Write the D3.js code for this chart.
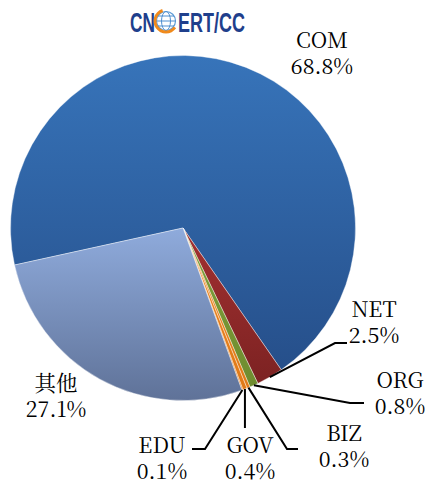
<!DOCTYPE html>
<html>
<head>
<meta charset="utf-8">
<script src="https://cdn.jsdelivr.net/npm/d3@7"></script>
<style>
  body { margin: 0; background: #fff; }
  svg { display: block; }
  .lbl { font-family: "Noto Serif CJK SC", "DejaVu Serif", serif; font-size: 21.5px; }
</style>
</head>
<body>
<div id="chart"></div>
<script>
// domain share by top-level domain
const categories = ["COM", "NET", "ORG", "BIZ", "GOV", "EDU", "其他"];
const values = [68.8, 2.5, 0.8, 0.3, 0.4, 0.1, 27.1];
const valueLabels = ["68.8%", "2.5%", "0.8%", "0.3%", "0.4%", "0.1%", "27.1%"];

const width = 426;
const height = 484;
const cx = 183, cy = 228, radius = 172.5;

const colors = {
  "COM": ["#3774ba", "#264f8a"],
  "NET": ["#a33131", "#7c2222"],
  "ORG": ["#80a03a", "#6f8c30"],
  "BIZ": ["#ee8722", "#e07a18"],
  "GOV": ["#ee8722", "#e07a18"],
  "EDU": ["#ee8722", "#e07a18"],
  "其他": ["#8fabdc", "#5f7298"]
};

// label placement: text centre, leader elbow and end
const labelLayout = {
  "COM": { x: 322, y: 48 },
  "NET": { x: 374, y: 317, elbow: [335, 343], end: [347, 343] },
  "ORG": { x: 400, y: 388, elbow: [350, 403], end: [364, 403] },
  "BIZ": { x: 344, y: 441, elbow: [287, 449], end: [298, 449] },
  "GOV": { x: 250, y: 453, elbow: null, end: [248, 428] },
  "EDU": { x: 162, y: 453, elbow: [205, 449], end: [192, 449] },
  "其他": { x: 56, y: 391 }
};

const data = categories.map((c, i) => ({ name: c, value: values[i], label: valueLabels[i] }));

const svg = d3.select("#chart")
  .append("svg")
  .attr("width", width)
  .attr("height", height);

const defs = svg.append("defs");
data.forEach((d, i) => {
  const g = defs.append("linearGradient")
    .attr("id", "grad" + i)
    .attr("x1", 0).attr("y1", 0)
    .attr("x2", 0).attr("y2", 1);
  g.append("stop").attr("offset", "0%").attr("stop-color", colors[d.name][0]);
  g.append("stop").attr("offset", "100%").attr("stop-color", colors[d.name][1]);
});

const startAngle = 257.6 * Math.PI / 180;
const pie = d3.pie()
  .sort(null)
  .value(d => d.value)
  .startAngle(startAngle)
  .endAngle(startAngle + 2 * Math.PI);

const arc = d3.arc().innerRadius(0).outerRadius(radius);
const arcs = pie(data);

const g = svg.append("g").attr("transform", `translate(${cx},${cy})`);

g.selectAll("path")
  .data(arcs)
  .join("path")
  .attr("d", arc)
  .attr("fill", (d, i) => `url(#grad${i})`)
  .attr("stroke", "#fff")
  .attr("stroke-width", 0.4);

// leader lines
arcs.forEach(a => {
  const lay = labelLayout[a.data.name];
  if (!lay.end) return;
  const mid = (a.startAngle + a.endAngle) / 2;
  const p0 = [cx + radius * Math.sin(mid), cy - radius * Math.cos(mid)];
  const pts = [p0];
  if (lay.elbow) pts.push(lay.elbow);
  if (a.data.name === "GOV") pts.push([p0[0], lay.end[1]]);
  else pts.push(lay.end);
  svg.append("path")
    .attr("d", d3.line()(pts))
    .attr("fill", "none")
    .attr("stroke", "#000")
    .attr("stroke-width", 2);
});

// labels
arcs.forEach(a => {
  const lay = labelLayout[a.data.name];
  const t = svg.append("text")
    .attr("class", "lbl")
    .attr("text-anchor", "middle")
    .attr("fill", "#000");
  t.append("tspan").attr("x", lay.x).attr("y", lay.y).text(a.data.name);
  t.append("tspan").attr("x", lay.x).attr("y", lay.y + 26).text(a.data.label);
});

// CNCERT/CC logo
const logo = svg.append("g");
const logoFont = "'Liberation Sans', Arial, sans-serif";
logo.append("text")
  .attr("x", 130).attr("y", 32)
  .attr("textLength", 25)
  .attr("lengthAdjust", "spacingAndGlyphs")
  .style("font-family", logoFont)
  .style("font-weight", "bold")
  .style("font-size", "27px")
  .attr("fill", "#1f3f8c")
  .text("CN");
const gx = 166, gy = 21, gr = 10.5;
logo.append("circle")
  .attr("cx", gx).attr("cy", gy).attr("r", gr - 1)
  .attr("fill", "#fff")
  .attr("stroke", "#5b9bd5")
  .attr("stroke-width", 1.2);
[-5, 0, 5].forEach(dy => {
  const hw = Math.sqrt((gr - 1) * (gr - 1) - dy * dy);
  logo.append("line")
    .attr("x1", gx - hw).attr("x2", gx + hw)
    .attr("y1", gy + dy).attr("y2", gy + dy)
    .attr("stroke", "#4f8fd0").attr("stroke-width", 1);
});
logo.append("ellipse")
  .attr("cx", gx).attr("cy", gy).attr("rx", 4.5).attr("ry", gr - 1)
  .attr("fill", "none").attr("stroke", "#4f8fd0").attr("stroke-width", 1);
logo.append("path")
  .attr("d", d3.arc().innerRadius(gr - 1).outerRadius(gr + 2).startAngle(-Math.PI * 0.1).endAngle(-Math.PI * 1.3)())
  .attr("transform", `translate(${gx},${gy})`)
  .attr("fill", "#f08a1c");
logo.append("text")
  .attr("x", 178).attr("y", 32)
  .attr("textLength", 67)
  .attr("lengthAdjust", "spacingAndGlyphs")
  .style("font-family", logoFont)
  .style("font-weight", "bold")
  .style("font-size", "27px")
  .attr("fill", "#1f3f8c")
  .text("ERT/CC");
</script>
</body>
</html>
